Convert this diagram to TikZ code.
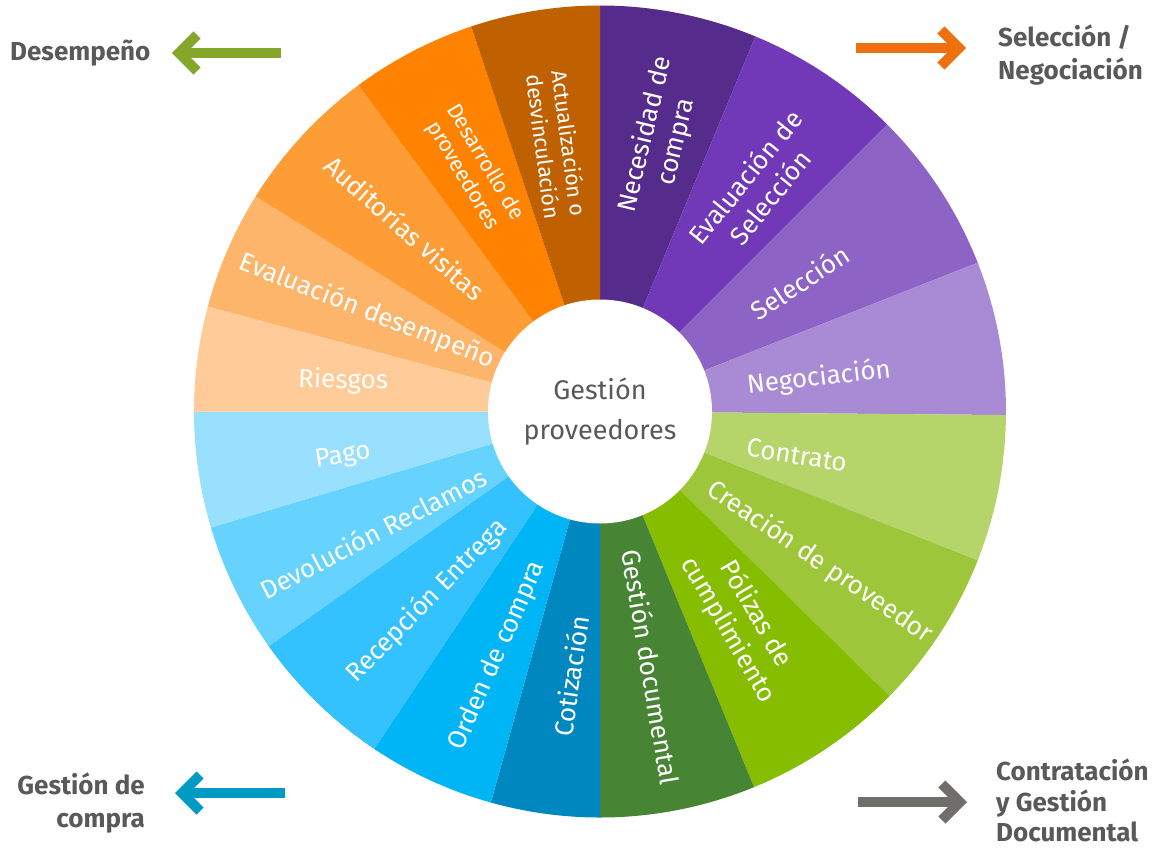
\documentclass[tikz,border=0pt]{standalone}
\usepackage{fontspec}
\setmainfont{Fira Sans}
\usetikzlibrary{arrows.meta}

\definecolor{necesidadcol}{RGB}{85,43,140}
\definecolor{evalselcol}{RGB}{113,57,184}
\definecolor{seleccioncol}{RGB}{142,99,198}
\definecolor{negociacioncol}{RGB}{169,138,213}
\definecolor{contratocol}{RGB}{181,213,106}
\definecolor{creacioncol}{RGB}{157,198,58}
\definecolor{polizascol}{RGB}{134,189,0}
\definecolor{gestiondoccol}{RGB}{71,132,52}
\definecolor{cotizacioncol}{RGB}{0,135,192}
\definecolor{ordencol}{RGB}{0,181,245}
\definecolor{recepcioncol}{RGB}{51,194,253}
\definecolor{devolucioncol}{RGB}{102,211,254}
\definecolor{pagocol}{RGB}{153,223,254}
\definecolor{riesgoscol}{RGB}{254,203,153}
\definecolor{evaldescol}{RGB}{253,180,107}
\definecolor{auditoriascol}{RGB}{254,156,54}
\definecolor{desarrollocol}{RGB}{255,131,0}
\definecolor{actualizacioncol}{RGB}{191,97,0}
\definecolor{greytext}{RGB}{89,89,89}
\definecolor{greenarrow}{RGB}{131,166,43}
\definecolor{orangearrow}{RGB}{238,112,16}
\definecolor{bluearrow}{RGB}{0,155,195}
\definecolor{greyarrow}{RGB}{111,110,107}

\tikzset{
    segtext/.style={text=white, align=center, inner sep=0pt, font=\fontsize{26}{32}\selectfont},
    segsmall/.style={segtext, font=\fontsize{21.5}{26}\selectfont},
    sidetext/.style={text=greytext, inner sep=0pt, font=\bfseries\fontsize{26}{33}\selectfont},
    sidearrow/.style={line width=10pt, -{Straight Barb[length=18pt, width=36pt]}}
}

\begin{document}
\begin{tikzpicture}[x=1pt, y=1pt]
    \useasboundingbox (-600,-435.5) rectangle (555,411.5);

    % wheel, clockwise from the top
    \fill[necesidadcol] (0,0) -- (90:406pt) arc[start angle=90, end angle=67.5, radius=406pt] -- cycle;
    \fill[evalselcol] (0,0) -- (67.5:406pt) arc[start angle=67.5, end angle=45, radius=406pt] -- cycle;
    \fill[seleccioncol] (0,0) -- (45:406pt) arc[start angle=45, end angle=21.5, radius=406pt] -- cycle;
    \fill[negociacioncol] (0,0) -- (21.5:406pt) arc[start angle=21.5, end angle=-0.5, radius=406pt] -- cycle;
    \fill[contratocol] (0,0) -- (-0.5:406pt) arc[start angle=-0.5, end angle=-21.5, radius=406pt] -- cycle;
    \fill[creacioncol] (0,0) -- (-21.5:406pt) arc[start angle=-21.5, end angle=-44.5, radius=406pt] -- cycle;
    \fill[polizascol] (0,0) -- (-44.5:406pt) arc[start angle=-44.5, end angle=-67.7, radius=406pt] -- cycle;
    \fill[gestiondoccol] (0,0) -- (-67.7:406pt) arc[start angle=-67.7, end angle=-90, radius=406pt] -- cycle;
    \fill[cotizacioncol] (0,0) -- (-90:406pt) arc[start angle=-90, end angle=-105.6, radius=406pt] -- cycle;
    \fill[ordencol] (0,0) -- (-105.6:406pt) arc[start angle=-105.6, end angle=-123.8, radius=406pt] -- cycle;
    \fill[recepcioncol] (0,0) -- (-123.8:406pt) arc[start angle=-123.8, end angle=-144.7, radius=406pt] -- cycle;
    \fill[devolucioncol] (0,0) -- (-144.7:406pt) arc[start angle=-144.7, end angle=-163.4, radius=406pt] -- cycle;
    \fill[pagocol] (0,0) -- (-163.4:406pt) arc[start angle=-163.4, end angle=-180, radius=406pt] -- cycle;
    \fill[riesgoscol] (0,0) -- (180:406pt) arc[start angle=180, end angle=165, radius=406pt] -- cycle;
    \fill[evaldescol] (0,0) -- (165:406pt) arc[start angle=165, end angle=148, radius=406pt] -- cycle;
    \fill[auditoriascol] (0,0) -- (148:406pt) arc[start angle=148, end angle=126.5, radius=406pt] -- cycle;
    \fill[desarrollocol] (0,0) -- (126.5:406pt) arc[start angle=126.5, end angle=108.5, radius=406pt] -- cycle;
    \fill[actualizacioncol] (0,0) -- (108.5:406pt) arc[start angle=108.5, end angle=90, radius=406pt] -- cycle;

    \node[circle, fill=white, minimum size=224pt, inner sep=0pt, align=center, text=greytext,
          font=\fontsize{27}{40}\selectfont] (hub) at (0,0) {Gestión\\proveedores};

    % segment labels
    \node[segtext, rotate=76.5] (necesidad) at (77.4:280pt) {Necesidad de\\compra};
    \node[segtext, rotate=51] (evalsel) at (55:274pt) {Evaluación de\\Selección};
    \node[segtext, rotate=33.7] (seleccion) at (32.9:238pt) {Selección};
    \node[segtext, rotate=6.6] (negociacion) at (8.7:221.5pt) {Negociación};
    \node[segtext, rotate=-9.3] (contrato) at (-12.5:201.7pt) {Contrato};
    \node[segtext, rotate=-34.3] (creacion) at (-34.4:266.5pt) {Creación de proveedor};
    \node[segtext, rotate=-60] (polizas) at (-56:254pt) {Pólizas de\\cumplimiento};
    \node[segtext, rotate=-80.4] (gestiondoc) at (-78.7:260.5pt) {Gestión documental};
    \node[segtext, rotate=81.7] (cotizacion) at (-96.3:266pt) {Cotización};
    \node[segtext, rotate=66.4] (orden) at (-112.8:265pt) {Orden de compra};
    \node[segtext, rotate=45.6] (recepcion) at (-132.4:256.6pt) {Recepción Entrega};
    \node[segtext, rotate=27.5] (devolucion) at (-151.8:257.5pt) {Devolución Reclamos};
    \node[segtext, rotate=9.5] (pago) at (-170:261pt) {Pago};
    \node[segtext, rotate=-1] (riesgos) at (173.2:258.7pt) {Riesgos};
    \node[segtext, rotate=-21.4] (evaldes) at (156.7:253.7pt) {Evaluación desempeño};
    \node[segtext, rotate=-41.3] (auditorias) at (136.7:267.8pt) {Auditorías visitas};
    \node[segsmall, rotate=-59.5] (desarrollo) at (117.5:273.3pt) {Desarrollo de\\proveedores};
    \node[segsmall, rotate=-82.7] (actualizacion) at (99.2:270pt) {Actualización o\\desvinculación};

    % phases in the corners
    \node[sidetext, anchor=west] (desempeno) at (-590,358.5) {Desempeño};
    \coordinate (desempeno tail) at (-319,358.5);
    \coordinate (desempeno tip) at (-428,358.5);
    \draw[sidearrow, greenarrow] (desempeno tail) -- (desempeno tip);

    \node[sidetext, anchor=west, align=left] (selneg) at (398,356.5) {Selección /\\Negociación};
    \coordinate (selneg tail) at (256,363.5);
    \coordinate (selneg tip) at (366,363.5);
    \draw[sidearrow, orangearrow] (selneg tail) -- (selneg tip);

    \node[sidetext, anchor=east, align=right] (compra) at (-455,-391.5) {Gestión de\\compra};
    \coordinate (compra tail) at (-315,-381.5);
    \coordinate (compra tip) at (-425,-381.5);
    \draw[sidearrow, bluearrow] (compra tail) -- (compra tip);

    \node[sidetext, anchor=west, align=left, font=\bfseries\fontsize{26}{30.5}\selectfont] (contratacion) at (396,-389) {Contratación\\y Gestión\\Documental};
    \coordinate (contratacion tail) at (258,-390.5);
    \coordinate (contratacion tip) at (367,-390.5);
    \draw[sidearrow, greyarrow] (contratacion tail) -- (contratacion tip);
\end{tikzpicture}
\end{document}
